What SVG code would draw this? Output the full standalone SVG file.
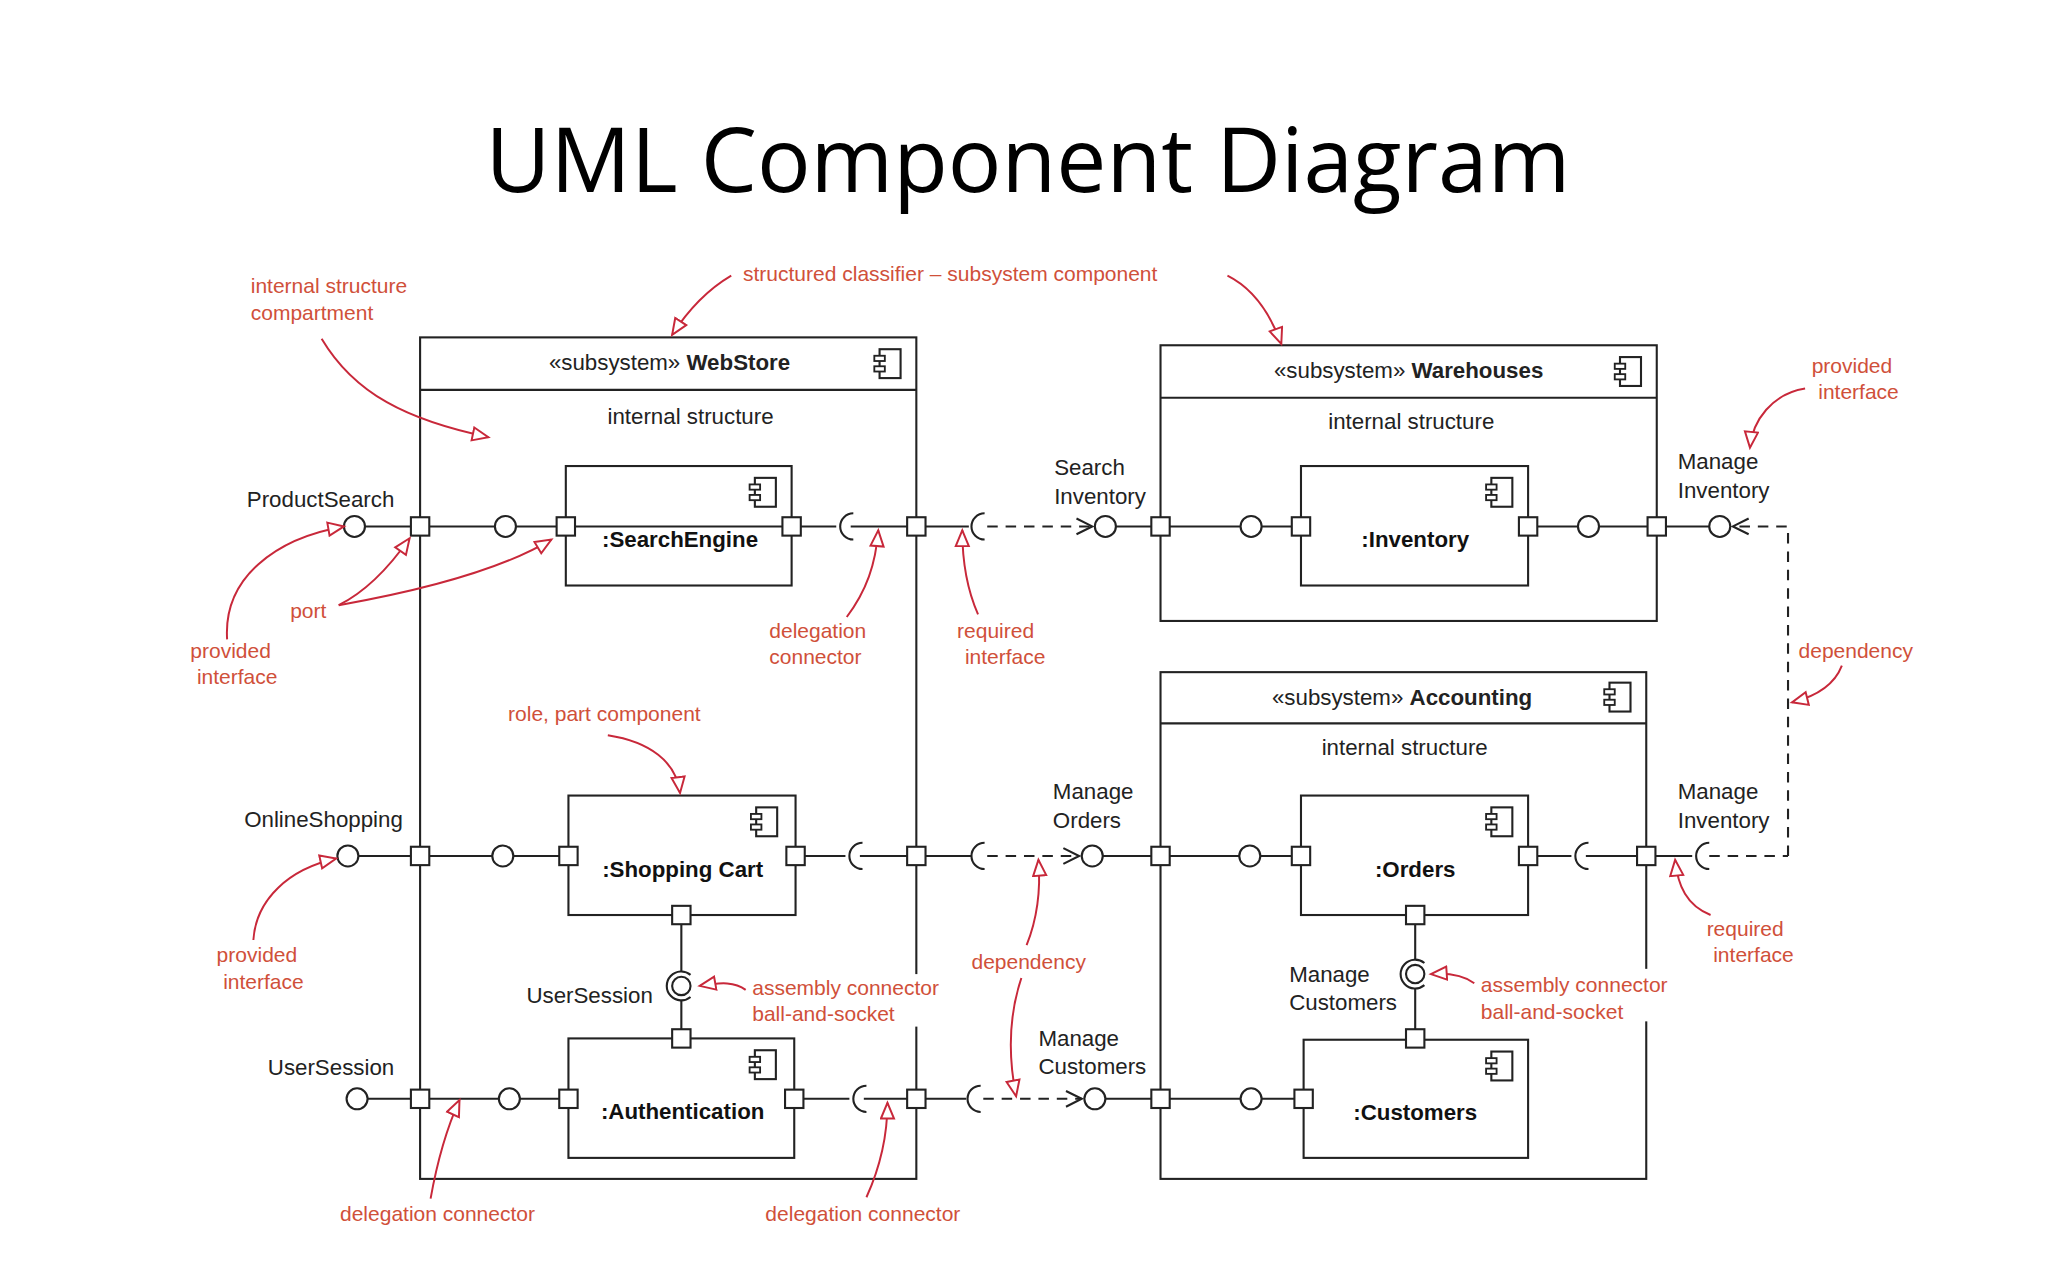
<svg xmlns="http://www.w3.org/2000/svg" width="2048" height="1280" viewBox="0 0 2048 1280">
<style>
.bx{fill:none;stroke:#222;stroke-width:1.6}
.ln{fill:none;stroke:#222;stroke-width:1.6}
.dl{fill:none;stroke:#222;stroke-width:1.6;stroke-dasharray:8 6}
.pt{fill:#fff;stroke:#222;stroke-width:1.6}
.ball{fill:#fff;stroke:#222;stroke-width:1.6}
.t{font-family:"Liberation Sans",Arial,sans-serif;font-size:17px;fill:#222}
.tb{font-family:"Liberation Sans",Arial,sans-serif;font-size:17px;font-weight:bold;fill:#111}
.r{font-family:"Liberation Sans",Arial,sans-serif;font-size:16px;fill:#d0503a}
.ra{fill:none;stroke:#c8283a;stroke-width:1.5}
.title{font-family:"Open Sans","Liberation Sans",sans-serif;font-size:68px;fill:#000}
</style>
<defs>
<marker id="ha" markerUnits="userSpaceOnUse" markerWidth="16" markerHeight="14" refX="13" refY="6" orient="auto"><path d="M1,1 L13,6 L1,11 Z" fill="#fff" stroke="#c8283a" stroke-width="1.5"/></marker>
<marker id="dep" markerUnits="userSpaceOnUse" markerWidth="16" markerHeight="16" refX="13" refY="7" orient="auto"><path d="M1,1 L13,7 L1,13" fill="none" stroke="#222" stroke-width="1.6"/></marker>
<symbol id="ic" viewBox="0 0 24 26" width="24" height="26"><rect x="6" y="2" width="16" height="22" fill="#fff" stroke="#222" stroke-width="1.6"/><rect x="2" y="7" width="8" height="4" fill="#fff" stroke="#222" stroke-width="1.4"/><rect x="2" y="15" width="8" height="4" fill="#fff" stroke="#222" stroke-width="1.4"/></symbol>
</defs>
<rect width="2048" height="1280" fill="#fff"/>
<g transform="scale(1.3128)">
<text class="title" x="783" y="146" text-anchor="middle">UML Component Diagram</text>

<g id="connectors">
<path class="ln" d="M278,401 H424 M438,401 H596 M610,401 H637 M648,401 H691 M705,401 H738"/>
<path class="dl" d="M752,401 H832" marker-end="url(#dep)"/>
<path class="ln" d="M850,401 H945 M961,401 H984 M1171,401 H1202 M1218,401 H1302"/>
<path class="dl" d="M1362,652 V401 H1320" marker-end="url(#dep)"/>
<path class="ln" d="M273,652 H375 M391,652 H426 M613,652 H644 M655,652 H740"/>
<path class="dl" d="M752,652 H822" marker-end="url(#dep)"/>
<path class="ln" d="M840,652 H944 M960,652 H984 M1171,652 H1197 M1208,652 H1289"/>
<path class="dl" d="M1302,652 H1362"/>
<path class="ln" d="M519,704 V740 M519,762 V784 M1078,704 V731 M1078,753 V784"/>
<path class="ln" d="M280,837 H380 M396,837 H426 M612,837 H647 M658,837 H736"/>
<path class="dl" d="M749,837 H824" marker-end="url(#dep)"/>
<path class="ln" d="M842,837 H945 M961,837 H986"/>
<path class="ln" d="M650,391 A10,10 0 0 0 650,411 M750,391 A10,10 0 0 0 750,411 M657,642 A10,10 0 0 0 657,662 M750,642 A10,10 0 0 0 750,662 M660,827 A10,10 0 0 0 660,847 M747,827 A10,10 0 0 0 747,847 M1210,642 A10,10 0 0 0 1210,662 M1302,642 A10,10 0 0 0 1302,662"/>
</g>

<g id="WebStore">
<rect class="bx" x="320" y="257" width="378" height="641"/>
<line class="ln" x1="320" y1="297" x2="698" y2="297"/>
<text class="t" x="510" y="282" text-anchor="middle">«subsystem» <tspan font-weight="bold">WebStore</tspan></text>
<use href="#ic" x="664" y="264"/>
<text class="t" x="526" y="323" text-anchor="middle">internal structure</text>
</g>
<g id="SearchEngine">
<rect class="bx" x="431" y="355" width="172" height="91"/>
<use href="#ic" x="569" y="362"/>
<text class="tb" x="518" y="417" text-anchor="middle">:SearchEngine</text>
</g>
<g id="ShoppingCart">
<rect class="bx" x="433" y="606" width="173" height="91"/>
<use href="#ic" x="570" y="613"/>
<text class="tb" x="520" y="668" text-anchor="middle">:Shopping Cart</text>
</g>
<g id="Authentication">
<rect class="bx" x="433" y="791" width="172" height="91"/>
<use href="#ic" x="569" y="798"/>
<text class="tb" x="520" y="852" text-anchor="middle">:Authentication</text>
</g>
<g id="Warehouses">
<rect class="bx" x="884" y="263" width="378" height="210"/>
<line class="ln" x1="884" y1="303" x2="1262" y2="303"/>
<text class="t" x="1073" y="288" text-anchor="middle">«subsystem» <tspan font-weight="bold">Warehouses</tspan></text>
<use href="#ic" x="1228" y="270"/>
<text class="t" x="1075" y="327" text-anchor="middle">internal structure</text>
</g>
<g id="Inventory">
<rect class="bx" x="991" y="355" width="173" height="91"/>
<use href="#ic" x="1130" y="362"/>
<text class="tb" x="1078" y="417" text-anchor="middle">:Inventory</text>
</g>
<g id="Accounting">
<rect class="bx" x="884" y="512" width="370" height="386"/>
<line class="ln" x1="884" y1="551" x2="1254" y2="551"/>
<text class="t" x="1068" y="537" text-anchor="middle">«subsystem» <tspan font-weight="bold">Accounting</tspan></text>
<use href="#ic" x="1220" y="518"/>
<text class="t" x="1070" y="575" text-anchor="middle">internal structure</text>
</g>
<g id="Orders">
<rect class="bx" x="991" y="606" width="173" height="91"/>
<use href="#ic" x="1130" y="613"/>
<text class="tb" x="1078" y="668" text-anchor="middle">:Orders</text>
</g>
<g id="Customers">
<rect class="bx" x="993" y="792" width="171" height="90"/>
<use href="#ic" x="1130" y="799"/>
<text class="tb" x="1078" y="853" text-anchor="middle">:Customers</text>
</g>

<g id="ports">
<g class="pt">
<rect x="313" y="394" width="14" height="14"/><rect x="424" y="394" width="14" height="14"/><rect x="596" y="394" width="14" height="14"/><rect x="691" y="394" width="14" height="14"/>
<rect x="877" y="394" width="14" height="14"/><rect x="984" y="394" width="14" height="14"/><rect x="1157" y="394" width="14" height="14"/><rect x="1255" y="394" width="14" height="14"/>
<rect x="313" y="645" width="14" height="14"/><rect x="426" y="645" width="14" height="14"/><rect x="599" y="645" width="14" height="14"/><rect x="691" y="645" width="14" height="14"/>
<rect x="877" y="645" width="14" height="14"/><rect x="984" y="645" width="14" height="14"/><rect x="1157" y="645" width="14" height="14"/><rect x="1247" y="645" width="14" height="14"/>
<rect x="313" y="830" width="14" height="14"/><rect x="426" y="830" width="14" height="14"/><rect x="598" y="830" width="14" height="14"/><rect x="691" y="830" width="14" height="14"/>
<rect x="877" y="830" width="14" height="14"/><rect x="986" y="830" width="14" height="14"/>
<rect x="512" y="690" width="14" height="14"/><rect x="512" y="784" width="14" height="14"/><rect x="1071" y="690" width="14" height="14"/><rect x="1071" y="784" width="14" height="14"/>
</g>
<g class="ball">
<circle cx="270" cy="401" r="8"/><circle cx="385" cy="401" r="8"/><circle cx="842" cy="401" r="8"/><circle cx="953" cy="401" r="8"/><circle cx="1210" cy="401" r="8"/><circle cx="1310" cy="401" r="8"/>
<circle cx="265" cy="652" r="8"/><circle cx="383" cy="652" r="8"/><circle cx="832" cy="652" r="8"/><circle cx="952" cy="652" r="8"/>
<circle cx="272" cy="837" r="8"/><circle cx="388" cy="837" r="8"/><circle cx="834" cy="837" r="8"/><circle cx="953" cy="837" r="8"/>
<circle cx="519" cy="751" r="7"/><circle cx="1078" cy="742" r="7"/>
</g>
<path class="ln" d="M526,742.6 A11,11 0 1 0 526,759.4 M1085,733.6 A11,11 0 1 0 1085,750.4"/>
</g>

<g id="labels">
<text class="t" x="188" y="386">ProductSearch</text>
<text class="t" x="186" y="630">OnlineShopping</text>
<text class="t" x="204" y="819">UserSession</text>
<text class="t" x="401" y="764">UserSession</text>
<text class="t" x="803" y="362">Search</text><text class="t" x="803" y="384">Inventory</text>
<text class="t" x="1278" y="357">Manage</text><text class="t" x="1278" y="379">Inventory</text>
<text class="t" x="802" y="609">Manage</text><text class="t" x="802" y="631">Orders</text>
<text class="t" x="1278" y="609">Manage</text><text class="t" x="1278" y="631">Inventory</text>
<text class="t" x="791" y="797">Manage</text><text class="t" x="791" y="818">Customers</text>
<text class="t" x="982" y="748">Manage</text><text class="t" x="982" y="769">Customers</text>
</g>

<g id="annotations">
<rect x="688" y="742" width="20" height="40" fill="#fff"/>
<rect x="1244" y="738" width="20" height="40" fill="#fff"/>
<text class="r" x="191" y="223">internal structure</text><text class="r" x="191" y="244">compartment</text>
<path class="ra" d="M245,258 C270,300 310,320 372,333" marker-end="url(#ha)"/>
<text class="r" x="566" y="214">structured classifier – subsystem component</text>
<path class="ra" d="M557,210 C540,220 525,235 512,255" marker-end="url(#ha)"/>
<path class="ra" d="M935,210 C955,220 968,240 976,262" marker-end="url(#ha)"/>
<text class="r" x="1380" y="284">provided</text><text class="r" x="1385" y="304">interface</text>
<path class="ra" d="M1375,296 C1350,300 1335,320 1333,341" marker-end="url(#ha)"/>
<text class="r" x="221" y="471">port</text>
<path class="ra" d="M258,461 C280,450 298,430 312,410" marker-end="url(#ha)"/>
<path class="ra" d="M258,461 C320,450 380,435 420,411" marker-end="url(#ha)"/>
<text class="r" x="145" y="501">provided</text><text class="r" x="150" y="521">interface</text>
<path class="ra" d="M173,487 C170,440 210,410 262,401" marker-end="url(#ha)"/>
<text class="r" x="586" y="486">delegation</text><text class="r" x="586" y="506">connector</text>
<path class="ra" d="M645,470 C660,450 667,430 669,404" marker-end="url(#ha)"/>
<text class="r" x="729" y="486">required</text><text class="r" x="735" y="506">interface</text>
<path class="ra" d="M745,468 C737,450 733,430 733,404" marker-end="url(#ha)"/>
<text class="r" x="1370" y="501">dependency</text>
<path class="ra" d="M1403,507 C1398,520 1385,530 1365,535" marker-end="url(#ha)"/>
<text class="r" x="387" y="549">role, part component</text>
<path class="ra" d="M463,560 C495,565 515,580 518,604" marker-end="url(#ha)"/>
<text class="r" x="165" y="733">provided</text><text class="r" x="170" y="753">interface</text>
<path class="ra" d="M193,716 C195,685 220,662 256,654" marker-end="url(#ha)"/>
<text class="r" x="573" y="758">assembly connector</text><text class="r" x="573" y="778">ball-and-socket</text>
<path class="ra" d="M568,754 C560,748 550,748 533,751" marker-end="url(#ha)"/>
<text class="r" x="740" y="738">dependency</text>
<path class="ra" d="M782,720 C790,700 793,680 791,655" marker-end="url(#ha)"/>
<path class="ra" d="M778,745 C768,775 768,805 774,835" marker-end="url(#ha)"/>
<text class="r" x="1300" y="713">required</text><text class="r" x="1305" y="733">interface</text>
<path class="ra" d="M1303,697 C1285,690 1278,675 1276,655" marker-end="url(#ha)"/>
<text class="r" x="1128" y="756">assembly connector</text><text class="r" x="1128" y="776">ball-and-socket</text>
<path class="ra" d="M1123,749 C1115,743 1105,741 1090,742" marker-end="url(#ha)"/>
<text class="r" x="259" y="930">delegation connector</text>
<path class="ra" d="M328,913 C333,885 340,860 350,838" marker-end="url(#ha)"/>
<text class="r" x="583" y="930">delegation connector</text>
<path class="ra" d="M660,912 C670,890 676,865 676,840" marker-end="url(#ha)"/>
</g>
</g>
</svg>
